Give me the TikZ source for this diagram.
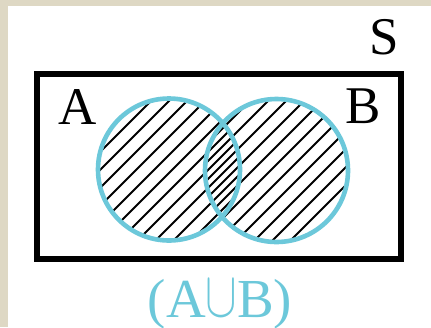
\documentclass[tikz,border=0pt]{standalone}
\usepackage{fontspec}
\setmainfont{Liberation Serif}
\usepackage{graphicx}
\definecolor{setcyan}{RGB}{108,200,218}
\definecolor{beige}{RGB}{222,216,196}
\begin{document}
\begin{tikzpicture}[x=0.5pt,y=-0.5pt,
  lbl/.style={inner sep=0pt,anchor=base,font=\fontsize{26.5}{30}\selectfont},
  hatch/.style={line width=0.9pt,black},
  setcircle/.style={draw=setcyan,line width=2.3pt}]
\useasboundingbox (0,0) rectangle (431,327);
\fill[white] (0,0) rectangle (431,327);
\fill[beige] (0,0) rectangle (8,327);
\fill[beige] (0,0) rectangle (431,6);
% universe
\draw[line width=2.8pt] (37,74) rectangle (401,259);
% hatching of A
\begin{scope}
  \clip (169,169.5) circle[radius=35.5pt];
  \foreach \c in {180,198,...,520} \draw[hatch] (\c,0) -- (\c-330,330);
\end{scope}
% hatching of B
\begin{scope}
  \clip (276.5,170.5) circle[radius=35.75pt];
  \foreach \c in {279,297,...,660} \draw[hatch] (\c,0) -- (\c-330,330);
\end{scope}
\draw[setcircle] (169,169.5) circle[radius=35.5pt];
\draw[setcircle] (276.5,170.5) circle[radius=35.75pt];
% labels
\node[lbl] (S) at (384,54) {S};
\node[lbl] (A) at (78,124) {A};
\node[lbl] (B) at (363,123) {B};
\node[lbl,text=setcyan,font=\fontsize{27.5}{30}\selectfont] (U) at (220,317) {(A\raisebox{0.5pt}{\scalebox{0.95}[1.3]{$\cup$}}B)};
\end{tikzpicture}
\end{document}
